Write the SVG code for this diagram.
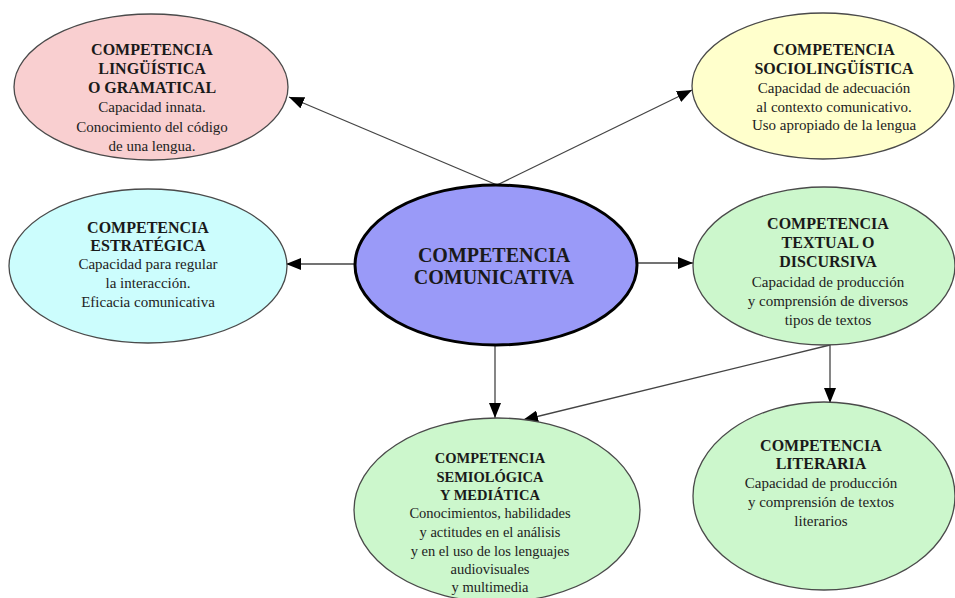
<svg xmlns="http://www.w3.org/2000/svg" width="955" height="598" viewBox="0 0 955 598">
<style>
.bg{fill:#fff}
.el{stroke:#4a4a4a;stroke-width:1.3}
.t{font-family:"Liberation Serif","Times New Roman",serif;font-weight:bold;font-size:16px;fill:#1a1a1a;text-anchor:middle}
.b{font-family:"Liberation Serif","Times New Roman",serif;font-size:15px;fill:#222;text-anchor:middle}
.s{font-size:14.5px}
.c{stroke:#444;stroke-width:1.3;fill:none;marker-end:url(#ah)}
</style>
<defs>
<marker id="ah" markerUnits="userSpaceOnUse" markerWidth="15" markerHeight="12" refX="15" refY="6" orient="auto">
<path d="M0,0 L15,6 L0,12 z" fill="#000"/>
</marker>
</defs>
<rect class="bg" x="0" y="0" width="955" height="598"/>
<g id="connectors">
<line class="c" x1="497" y1="185" x2="289" y2="97"/>
<line class="c" x1="497" y1="185" x2="692" y2="90"/>
<line class="c" x1="355" y1="264" x2="286" y2="264"/>
<line class="c" x1="638" y1="263" x2="693" y2="263"/>
<line class="c" x1="495" y1="345" x2="495" y2="418"/>
<line class="c" x1="830" y1="345" x2="523" y2="420"/>
<line class="c" x1="830" y1="345" x2="830" y2="403"/>
</g>
<g id="linguistica">
<ellipse class="el" cx="151" cy="87" rx="137" ry="73" fill="#f9cfd0"/>
<text class="t" x="152" y="55">COMPETENCIA</text>
<text class="t" x="152" y="74">LINGÜÍSTICA</text>
<text class="t" x="152" y="93">O GRAMATICAL</text>
<text class="b" x="152" y="112">Capacidad innata.</text>
<text class="b" x="152" y="132">Conocimiento del código</text>
<text class="b" x="152" y="151">de una lengua.</text>
</g>
<g id="sociolinguistica">
<ellipse class="el" cx="823" cy="86" rx="131" ry="73" fill="#ffffcc"/>
<text class="t" x="834" y="55">COMPETENCIA</text>
<text class="t" x="834" y="74">SOCIOLINGÜÍSTICA</text>
<text class="b" x="834" y="93">Capacidad de adecuación</text>
<text class="b" x="834" y="112">al contexto comunicativo.</text>
<text class="b" x="834" y="130">Uso apropiado de la lengua</text>
</g>
<g id="estrategica">
<ellipse class="el" cx="148" cy="266" rx="139" ry="77" fill="#ccfdfd"/>
<text class="t" x="148" y="233">COMPETENCIA</text>
<text class="t" x="148" y="251">ESTRATÉGICA</text>
<text class="b" x="148" y="269">Capacidad para regular</text>
<text class="b" x="148" y="288">la interacción.</text>
<text class="b" x="148" y="307">Eficacia comunicativa</text>
</g>
<g id="comunicativa">
<ellipse cx="496" cy="265" rx="141" ry="80" fill="#9a9af8" stroke="#000" stroke-width="3"/>
<text class="t" x="494" y="262" style="font-size:20px">COMPETENCIA</text>
<text class="t" x="494" y="284" style="font-size:20px">COMUNICATIVA</text>
</g>
<g id="textual">
<ellipse class="el" cx="824" cy="266" rx="131" ry="79" fill="#ccf7cc"/>
<text class="t" x="828" y="229">COMPETENCIA</text>
<text class="t" x="828" y="248">TEXTUAL O</text>
<text class="t" x="828" y="267">DISCURSIVA</text>
<text class="b" x="828" y="287">Capacidad de producción</text>
<text class="b" x="828" y="306">y comprensión de diversos</text>
<text class="b" x="828" y="325">tipos de textos</text>
</g>
<g id="semiologica">
<ellipse class="el" cx="497" cy="510" rx="143" ry="92" fill="#ccf7cc"/>
<text class="t" x="490" y="463" style="font-size:14.5px">COMPETENCIA</text>
<text class="t" x="490" y="482" style="font-size:14.5px">SEMIOLÓGICA</text>
<text class="t" x="490" y="500" style="font-size:14.5px">Y MEDIÁTICA</text>
<text class="b s" x="490" y="518">Conocimientos, habilidades</text>
<text class="b s" x="490" y="537">y actitudes en el análisis</text>
<text class="b s" x="490" y="556">y en el uso de los lenguajes</text>
<text class="b s" x="490" y="574">audiovisuales</text>
<text class="b s" x="490" y="592">y multimedia</text>
</g>
<g id="literaria">
<ellipse class="el" cx="824" cy="496" rx="131" ry="94" fill="#ccf7cc"/>
<text class="t" x="821" y="451">COMPETENCIA</text>
<text class="t" x="821" y="469">LITERARIA</text>
<text class="b" x="821" y="488">Capacidad de producción</text>
<text class="b" x="821" y="507">y comprensión de textos</text>
<text class="b" x="821" y="526">literarios</text>
</g>
</svg>
